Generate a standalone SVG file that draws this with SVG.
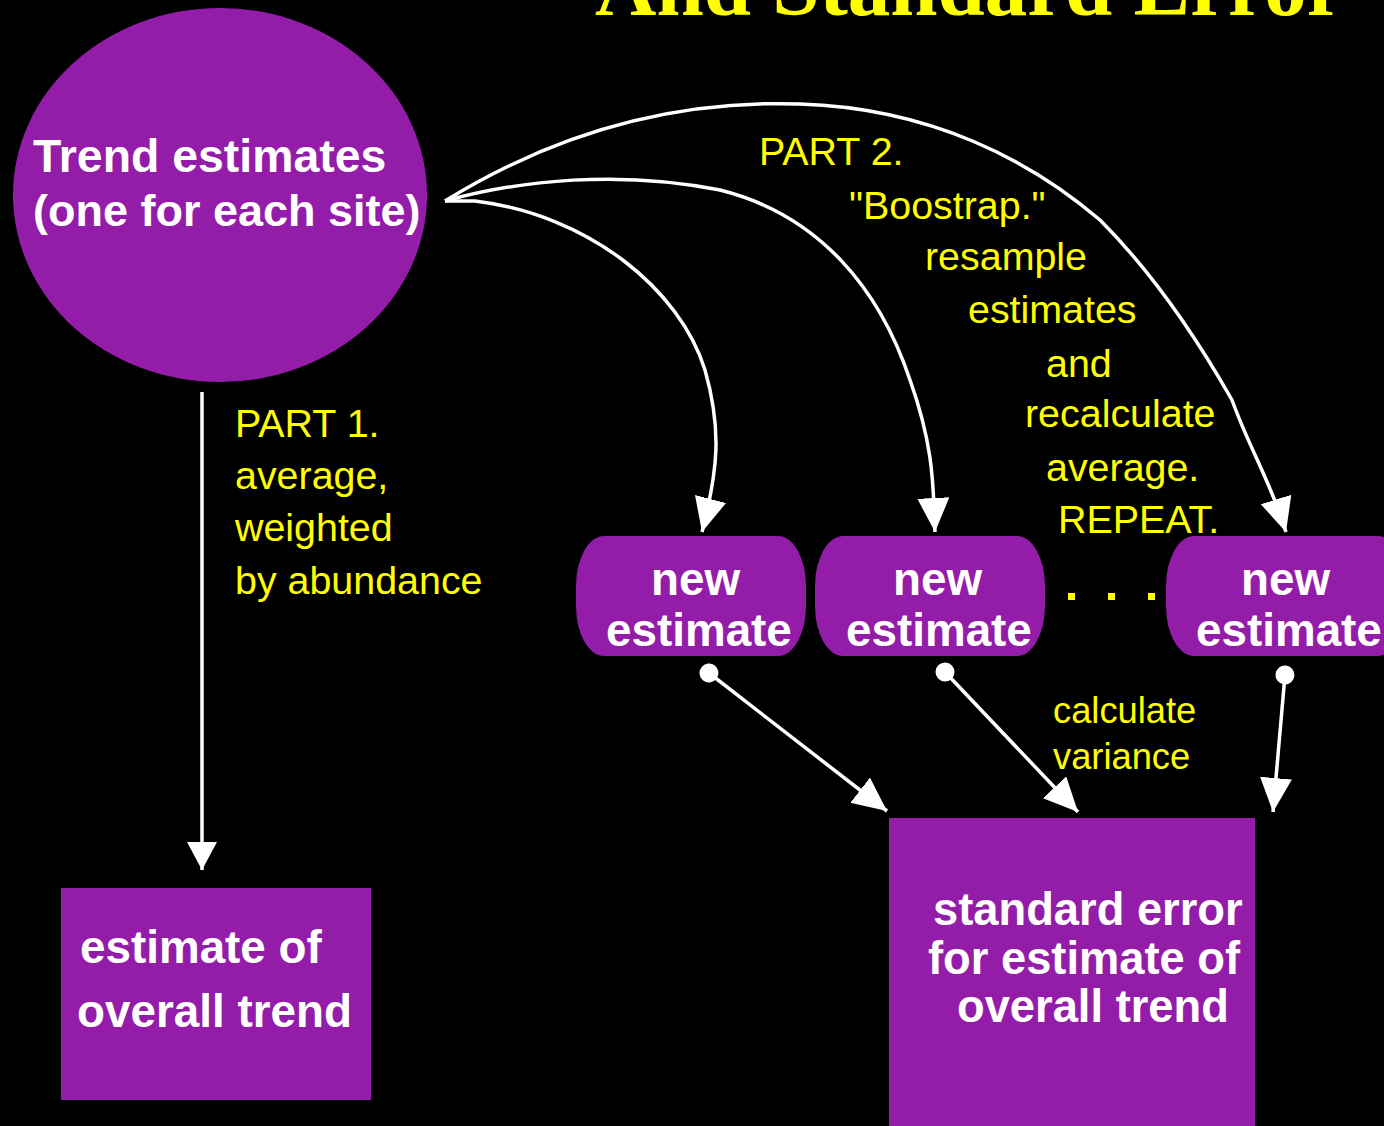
<svg xmlns="http://www.w3.org/2000/svg" width="1384" height="1126" viewBox="0 0 1384 1126">
<style>
.node{fill:#931DA9}
.wt{font-family:"Liberation Sans",Arial,sans-serif;font-weight:bold;font-size:45.8px;fill:#ffffff}
.yt{font-family:"Liberation Sans",Arial,sans-serif;font-size:39.4px;fill:#ffff00}
.ys{font-family:"Liberation Sans",Arial,sans-serif;font-size:36.3px;fill:#ffff00}
.conn{fill:none;stroke:#ffffff;stroke-width:3.5}
</style>
<defs>
<marker id="ah" markerUnits="userSpaceOnUse" markerWidth="36" markerHeight="34" refX="34" refY="16" orient="auto">
<path d="M0,0 L34,16 L0,32 z" fill="#ffffff"/>
</marker>
<marker id="ahs" markerUnits="userSpaceOnUse" markerWidth="30" markerHeight="32" refX="28" refY="15" orient="auto">
<path d="M0,0 L28,15 L0,30 z" fill="#ffffff"/>
</marker>
<marker id="dot" markerUnits="userSpaceOnUse" markerWidth="22" markerHeight="22" refX="11" refY="11" orient="auto">
<circle cx="11" cy="11" r="9.5" fill="#ffffff"/>
</marker>
</defs>
<rect width="1384" height="1126" fill="#000000"/>
<text x="595" y="15" font-family="'Liberation Serif','Times New Roman',serif" font-weight="bold" font-size="85" fill="#ffff00">And Standard Error</text>

<g id="connectors">
<path class="conn" d="M202,392 L202,870" stroke-width="2.5" marker-end="url(#ahs)"/>
<path class="conn" d="M445,201 L475,201 C590,215 680,290 705,370 C722,430 718,470 702,532" marker-end="url(#ah)"/>
<path class="conn" d="M445,201 C520,180 620,170 720,190 C820,215 880,290 910,380 C935,450 933,490 935,532" marker-end="url(#ah)"/>
<path class="conn" d="M445,201 C560,130 680,100 800,104 C930,108 1030,160 1100,220 C1150,270 1195,335 1232,400 C1250,450 1270,480 1286,532" marker-end="url(#ah)"/>
<path class="conn" d="M709,673 L887,811" marker-start="url(#dot)" marker-end="url(#ah)"/>
<path class="conn" d="M945,672 L1078,812" marker-start="url(#dot)" marker-end="url(#ah)"/>
<path class="conn" d="M1285,675 L1273,812" marker-start="url(#dot)" marker-end="url(#ah)"/>
</g>

<g id="trend">
<ellipse class="node" cx="220" cy="195" rx="207" ry="187"/>
<text class="wt" x="33" y="172" style="font-size:46.4px">Trend estimates</text>
<text class="wt" x="33" y="226" style="font-size:45px">(one for each site)</text>
</g>

<g id="overall">
<rect class="node" x="61" y="888" width="310" height="212"/>
<text class="wt" x="80" y="963">estimate of</text>
<text class="wt" x="77" y="1027">overall trend</text>
</g>

<g id="new1">
<rect class="node" x="576" y="536" width="230" height="120" rx="28" ry="50"/>
<text class="wt" x="651" y="595">new</text>
<text class="wt" x="606" y="646">estimate</text>
</g>
<g id="new2">
<rect class="node" x="815" y="536" width="230" height="120" rx="28" ry="50"/>
<text class="wt" x="893" y="595">new</text>
<text class="wt" x="846" y="646">estimate</text>
</g>
<g id="new3">
<rect class="node" x="1166" y="536" width="240" height="120" rx="28" ry="50"/>
<text class="wt" x="1241" y="595">new</text>
<text class="wt" x="1196" y="646">estimate</text>
</g>

<g id="dots" fill="#ffff00">
<rect x="1068" y="593" width="7" height="7"/>
<rect x="1108" y="593" width="7" height="7"/>
<rect x="1148" y="593" width="7" height="7"/>
</g>

<g id="stderr">
<rect class="node" x="889" y="818" width="366" height="308"/>
<text class="wt" x="933" y="925" style="font-size:45.3px">standard error</text>
<text class="wt" x="928" y="974" style="font-size:45.3px">for estimate of</text>
<text class="wt" x="957" y="1022" style="font-size:45.3px">overall trend</text>
</g>

<g id="labels">
<text class="yt" x="235" y="437">PART 1.</text>
<text class="yt" x="235" y="489">average,</text>
<text class="yt" x="235" y="541">weighted</text>
<text class="yt" x="235" y="594">by abundance</text>
<text class="yt" x="759" y="165">PART 2.</text>
<text class="yt" x="849" y="219">"Boostrap."</text>
<text class="yt" x="925" y="270">resample</text>
<text class="yt" x="968" y="323">estimates</text>
<text class="yt" x="1046" y="377">and</text>
<text class="yt" x="1025" y="427">recalculate</text>
<text class="yt" x="1046" y="481">average.</text>
<text class="yt" x="1058" y="533">REPEAT.</text>
<text class="ys" x="1053" y="723">calculate</text>
<text class="ys" x="1053" y="769">variance</text>
</g>
</svg>
